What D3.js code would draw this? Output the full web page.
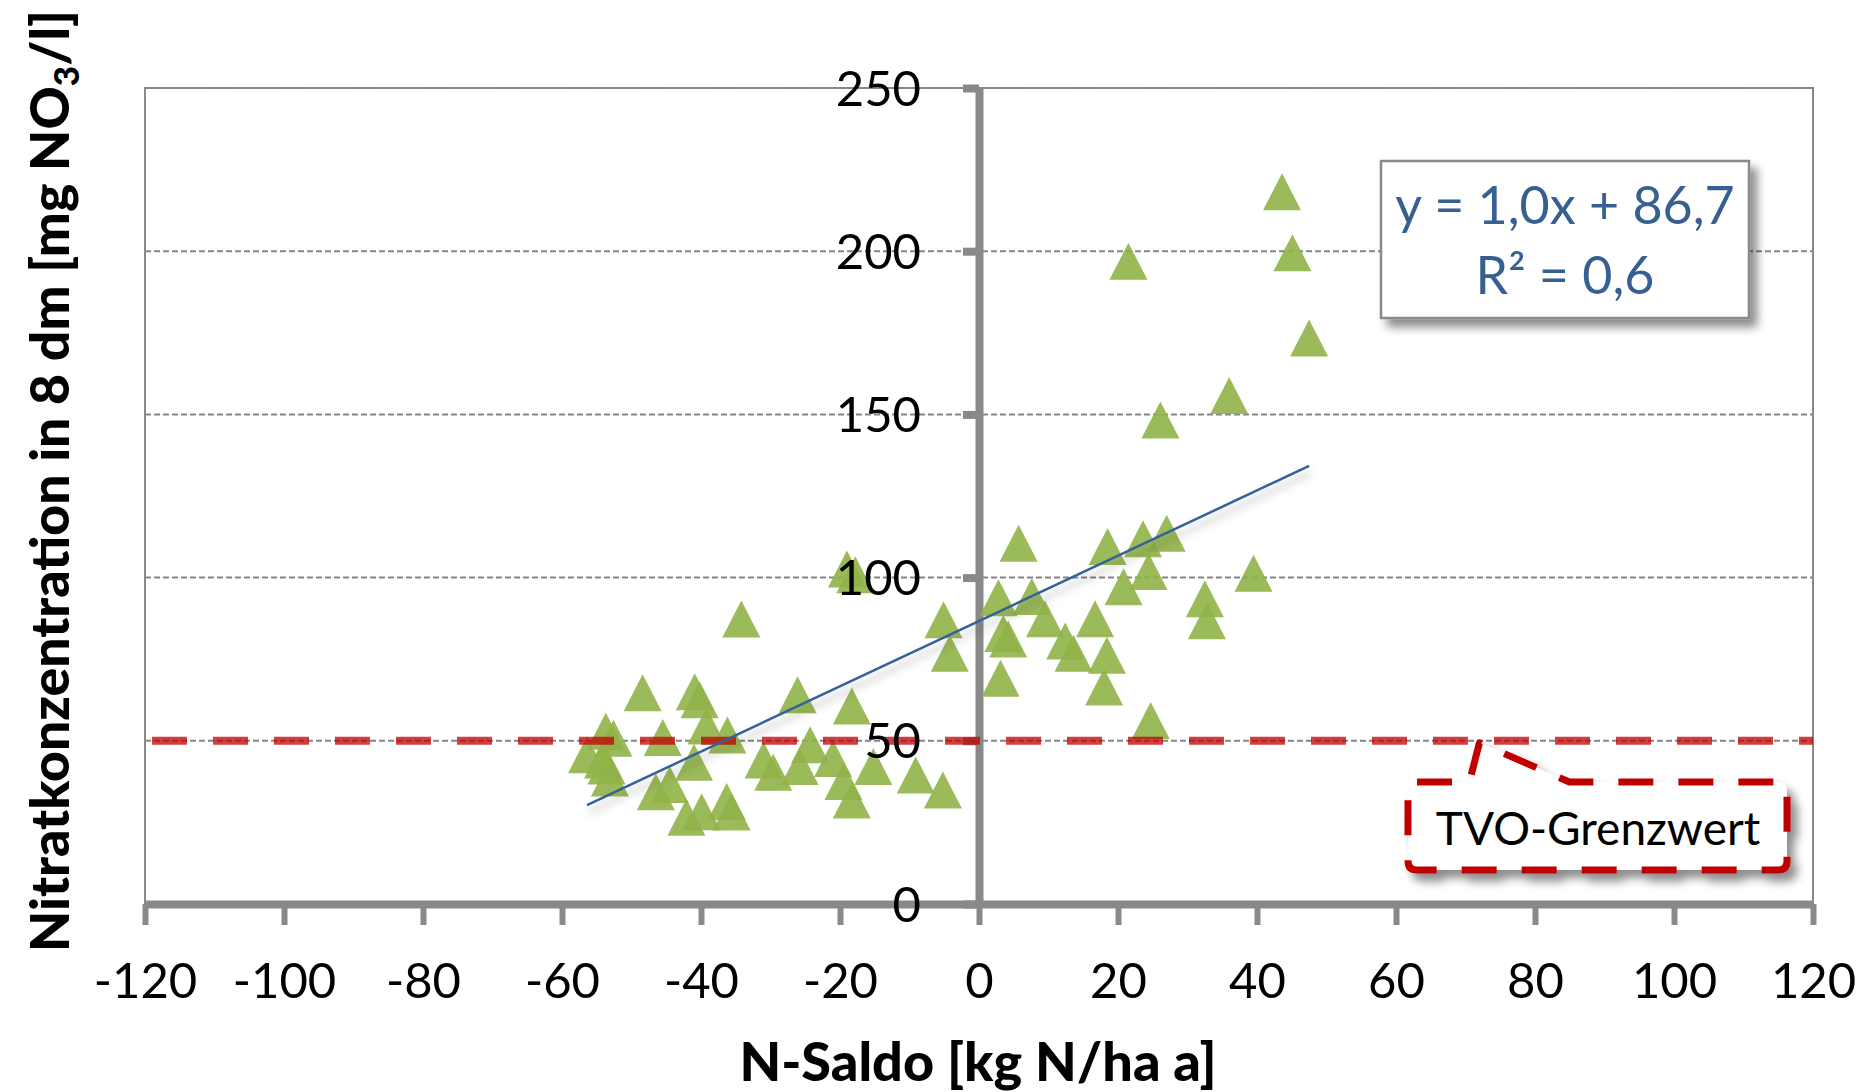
<!DOCTYPE html>
<html>
<head>
<meta charset="utf-8">
<script src="https://cdn.jsdelivr.net/npm/d3@7"></script>
<style>
  body { margin: 0; background: #fff; }
  svg { display: block; }
  text { font-family: Lato, "Open Sans", sans-serif; }
</style>
</head>
<body>
<div id="chart"></div>
<script>
// N-Saldo [kg N/ha a] and nitrate in 8 dm [mg NO3/l]
const nSaldo = [43.6, 21.5, 45.1, 47.5, 36.0, 26.1, 5.7, 18.5, 23.6, 27.0,
                24.4, 20.8, 39.5, 32.5, 32.8, 2.8, 7.6, 9.5, 16.7, 3.5,
                4.2, 12.4, 13.6, 18.4, 3.1, 18.0, 24.7,
                -5.1, -4.2, -19.0, -17.8, -34.2, -48.4, -40.9, -40.2, -26.1,
                -18.3, -39.2, -45.5, -36.2, -53.7, -52.6, -56.4, -54.1, -53.6,
                -53.1, -41.0, -24.3, -31.0, -29.6, -25.8, -21.0, -19.5, -18.3,
                -15.2, -9.1, -5.2, -46.5, -44.5, -42.1, -39.9, -36.3, -35.6];
const nitrat = [218.2, 196.9, 199.5, 173.4, 155.8, 148.3, 110.5, 109.5, 111.9, 113.6,
                101.9, 97.2, 101.3, 93.5, 86.8, 93.8, 94.2, 87.4, 87.4, 82.9,
                81.2, 80.6, 76.8, 76.2, 69.2, 66.5, 56.2,
                87.1, 76.8, 102.6, 100.9, 87.3, 64.7, 65.0, 62.6, 64.1,
                60.7, 54.5, 51.0, 51.8, 52.9, 50.8, 45.7, 44.1, 42.3,
                38.6, 43.4, 48.8, 44.1, 40.4, 42.1, 44.6, 37.5, 31.9,
                42.1, 39.5, 34.9, 34.4, 36.6, 26.6, 28.3, 31.4, 28.2];

const xTickValues = [-120, -100, -80, -60, -40, -20, 0, 20, 40, 60, 80, 100, 120];
const yTickValues = [0, 50, 100, 150, 200, 250];

// linear trend as given in the chart
const trendSlope = 1.0;
const trendIntercept = 86.7;
const eqLines = ["y = 1,0x + 86,7", "R² = 0,6"];

// TVO limit value
const limitValue = 50;
const limitLabel = "TVO-Grenzwert";
const calloutAnchor = [72, 50];

const width = 1866, height = 1092;

const svg = d3.select("#chart").append("svg")
    .attr("width", width).attr("height", height);

const defs = svg.append("defs");
function shadow(id, dx, dy, sd, op) {
  defs.append("filter").attr("id", id)
      .attr("x", "-20%").attr("y", "-40%").attr("width", "150%").attr("height", "200%")
    .append("feDropShadow")
      .attr("dx", dx).attr("dy", dy).attr("stdDeviation", sd)
      .attr("flood-color", "#000").attr("flood-opacity", op);
}
shadow("boxShadow", 7, 8, 5, 0.45);
shadow("lineShadow", 2, 7, 4, 0.3);

const x = d3.scaleLinear().domain([-120, 120]).range([145, 1813]);
const y = d3.scaleLinear().domain([0, 250]).range([904, 88]);

const axisGray = "#898989";

// plot area border
svg.append("rect")
    .attr("x", x(-120)).attr("y", y(250))
    .attr("width", x(120) - x(-120)).attr("height", y(0) - y(250))
    .attr("fill", "none").attr("stroke", axisGray).attr("stroke-width", 2);

// horizontal gridlines
svg.append("g").selectAll("line")
    .data(yTickValues.filter(d => d > 0))
    .join("line")
    .attr("x1", x(-120)).attr("x2", x(120))
    .attr("y1", d => y(d)).attr("y2", d => y(d))
    .attr("stroke", "#858585").attr("stroke-width", 2)
    .attr("stroke-dasharray", "6 3");

// axes through the origin
const xAxis = svg.append("g")
    .attr("transform", `translate(0,${y(0)})`)
    .call(d3.axisBottom(x).tickValues(xTickValues).tickFormat(d => String(d))
      .tickSize(21).tickSizeOuter(0).tickPadding(38));
xAxis.select(".domain").attr("stroke", axisGray).attr("stroke-width", 8);
xAxis.selectAll(".tick line").attr("stroke", axisGray).attr("stroke-width", 6);
xAxis.selectAll(".tick text")
    .attr("font-size", 49).attr("fill", "#000").attr("font-family", "Lato");

const yAxis = svg.append("g")
    .attr("transform", `translate(${x(0)},0)`)
    .call(d3.axisLeft(y).tickValues(yTickValues).tickSize(16).tickSizeOuter(0));
yAxis.select(".domain").attr("stroke", axisGray).attr("stroke-width", 8);
yAxis.selectAll(".tick line").attr("stroke", axisGray).attr("stroke-width", 8);
yAxis.selectAll(".tick text").remove();

// data points
const points = nSaldo.map((d, i) => ({x: d, y: nitrat[i]}));
svg.append("g").selectAll("path")
    .data(points)
    .join("path")
    .attr("transform", d => `translate(${x(d.x)},${y(d.y)})`)
    .attr("d", "M0,-18.5L19,18.5L-19,18.5Z")
    .attr("fill", "#90b347").attr("opacity", 0.9);

// TVO limit line
svg.append("line")
    .attr("x1", x(-120)).attr("x2", x(120))
    .attr("y1", y(limitValue)).attr("y2", y(limitValue))
    .attr("stroke", "#c00000").attr("stroke-opacity", 0.75)
    .attr("stroke-width", 8)
    .attr("stroke-dasharray", "35 26").attr("stroke-dashoffset", 54);

// trend line over the range of the data
const xExt = d3.extent(nSaldo);
svg.append("line")
    .attr("x1", x(xExt[0])).attr("y1", y(trendSlope * xExt[0] + trendIntercept))
    .attr("x2", x(xExt[1])).attr("y2", y(trendSlope * xExt[1] + trendIntercept))
    .attr("stroke", "#35609a").attr("stroke-width", 2.5)
    .attr("filter", "url(#lineShadow)");

// y tick labels drawn on top of the points
svg.append("g").selectAll("text")
    .data(yTickValues)
    .join("text")
    .attr("x", x(0) - 58).attr("y", d => y(d))
    .attr("dy", "0.36em")
    .attr("text-anchor", "end")
    .attr("font-size", 49)
    .text(d => d);

// equation box
const eq = svg.append("g");
eq.append("rect")
    .attr("x", 1381).attr("y", 161).attr("width", 368).attr("height", 157)
    .attr("fill", "#fff").attr("stroke", "#898989").attr("stroke-width", 2.5)
    .attr("filter", "url(#boxShadow)");
eq.selectAll("text")
    .data(eqLines)
    .join("text")
    .attr("x", 1565).attr("y", (d, i) => 224 + i * 70)
    .attr("text-anchor", "middle")
    .attr("font-size", 52).attr("fill", "#376092")
    .text(d => d);

// callout for the limit value
const ax = x(calloutAnchor[0]), ay = y(calloutAnchor[1]);
const bx0 = 1408, bx1 = 1787, by0 = 782, by1 = 870, r = 9;
const callout = d3.path();
callout.moveTo(bx0 + r, by0);
callout.lineTo(ax - 10, by0);
callout.lineTo(ax, ay + 2);
callout.lineTo(ax + 90, by0);
callout.lineTo(bx1 - r, by0);
callout.quadraticCurveTo(bx1, by0, bx1, by0 + r);
callout.lineTo(bx1, by1 - r);
callout.quadraticCurveTo(bx1, by1, bx1 - r, by1);
callout.lineTo(bx0 + r, by1);
callout.quadraticCurveTo(bx0, by1, bx0, by1 - r);
callout.lineTo(bx0, by0 + r);
callout.quadraticCurveTo(bx0, by0, bx0 + r, by0);
callout.closePath();
svg.append("path")
    .attr("d", callout.toString())
    .attr("fill", "#fff").attr("stroke", "#c00000").attr("stroke-width", 7)
    .attr("stroke-dasharray", "35 25").attr("stroke-linejoin", "round")
    .attr("filter", "url(#boxShadow)");
svg.append("text")
    .attr("x", 1598).attr("y", 845)
    .attr("text-anchor", "middle")
    .attr("font-size", 46).attr("fill", "#000")
    .text(limitLabel);

// axis titles
svg.append("text")
    .attr("x", 978).attr("y", 1081)
    .attr("text-anchor", "middle")
    .attr("font-size", 54).attr("font-weight", "900")
    .text("N-Saldo [kg N/ha a]");

const yTitle = svg.append("text")
    .attr("transform", "translate(69,952) rotate(-90)")
    .attr("text-anchor", "start")
    .attr("font-size", 53.5).attr("font-weight", "900");
yTitle.append("tspan").text("Nitratkonzentration in 8 dm [mg NO");
yTitle.append("tspan").attr("font-size", 35).attr("dy", 10).text("3");
yTitle.append("tspan").attr("dy", -10).text("/l]");
</script>
</body>
</html>
